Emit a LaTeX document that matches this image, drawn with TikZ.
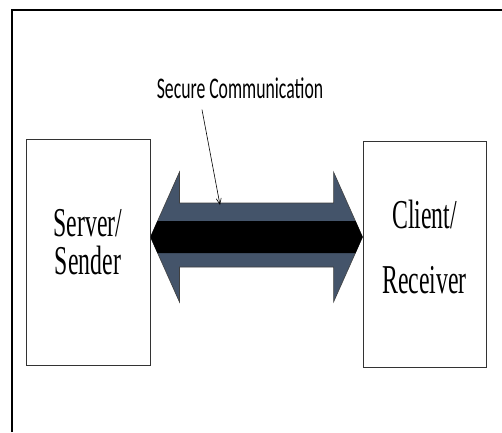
\documentclass[tikz,border=0pt]{standalone}
\usepackage{fontspec}
\usetikzlibrary{arrows.meta, calc}
\newfontfamily\lblfont[FakeStretch=0.59]{Carlito}
\newfontfamily\boxfont[FakeStretch=0.58]{Liberation Serif}
\definecolor{slate}{RGB}{68,84,106}

\begin{document}
\begin{tikzpicture}[
  x=1pt, y=-1pt,
  box/.style={draw=black!80, line width=0.9pt, fill=white, minimum width=124pt, minimum height=226pt, inner sep=0pt},
  boxtxt/.style={align=center, inner sep=0pt},
  note/.style={line width=0.6pt, -{Straight Barb[length=6pt, width=5pt]}},
  >={Stealth}
]
\useasboundingbox (0,0) rectangle (502,432);
% outer frame (runs off the page right and below)
\draw[line width=1.8pt] (12,432) -- (12,10) -- (502,10);
% the two end points
\node[box] (srv) at (88,252) {};
\node[box, minimum width=123pt] (cli) at (424.5,254) {};
\node[boxtxt, font=\boxfont\fontsize{41}{38}\selectfont] (srvtxt) at ([yshift=10pt]srv.center) {Server/\\Sender};
\node[boxtxt, font=\boxfont\fontsize{41}{65}\selectfont] (clitxt) at ([yshift=7pt]cli.center) {Client/\\Receiver};
% double arrow between them
\coordinate (ltip) at (srv.east |- 0,237);
\coordinate (rtip) at (cli.west |- 0,237);
\filldraw[fill=slate, draw=black!75, line width=0.6pt]
  (ltip) -- ++(29,-65) -- ++(0,31) -- ($(rtip)+(-29,-34)$) -- ++(0,-31) -- (rtip)
  -- ++(-29,65) -- ++(0,-35) -- ($(ltip)+(29,30)$) -- ++(0,35) -- cycle;
\fill[black] (ltip) -- ($(ltip)+(7,-16)$) -- ($(rtip)+(-7,-16)$) -- (rtip)
  -- ($(rtip)+(-7,16)$) -- ($(ltip)+(7,16)$) -- cycle;
% label pointing at the channel
\node[font=\lblfont\fontsize{30}{36}\selectfont, inner sep=2pt] (lbl) at (240,88) {Secure Communication};
\coordinate (hit) at (220,205);
\draw[note] ([xshift=-38pt, yshift=-9pt]lbl.south) -- (hit);
\end{tikzpicture}
\end{document}
